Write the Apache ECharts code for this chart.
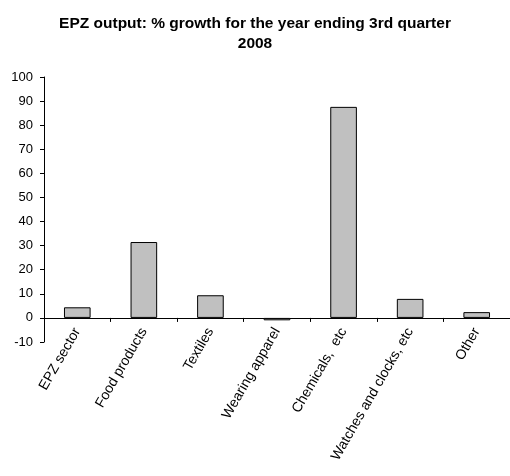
<!DOCTYPE html>
<html>
<head>
<meta charset="utf-8">
<script src="https://cdn.jsdelivr.net/npm/echarts@6/dist/echarts.min.js"></script>
<style>html,body{margin:0;padding:0;background:#fff;}#c{width:510px;height:476px;}</style>
</head>
<body>
<div id="c"></div>
<script>
const categories = ["EPZ sector", "Food products", "Textiles", "Wearing apparel", "Chemicals,  etc", "Watches and clocks, etc", "Other"];
const growth = [4.4, 31.5, 9.4, -1.0, 87.6, 7.9, 2.4];
const titleText = "EPZ output: % growth for the year ending 3rd quarter\n2008";

const chart = echarts.init(document.getElementById('c'), null, {renderer: 'canvas'});
chart.setOption({
  backgroundColor: '#ffffff',
  animation: false,
  title: {
    text: titleText,
    left: 'center',
    top: 9,
    textStyle: {fontFamily: 'Liberation Sans, Arial', fontSize: 15.5, fontWeight: 'bold', color: '#000', lineHeight: 20}
  },
  grid: {left: 44, top: 77, width: 468, height: 265},
  xAxis: {
    type: 'category',
    data: categories,
    axisLine: {onZero: true, lineStyle: {color: '#000', width: 1}},
    axisTick: {show: true, length: 4, inside: false, lineStyle: {color: '#000'}},
    axisLabel: {rotate: 60, interval: 0, fontFamily: 'Liberation Sans, Arial', fontSize: 14, color: '#000', margin: -13},
    splitLine: {show: false}
  },
  yAxis: {
    type: 'value',
    min: -10, max: 100, interval: 10,
    axisLine: {show: true, lineStyle: {color: '#000', width: 1}},
    axisTick: {show: true, length: 4, lineStyle: {color: '#000'}},
    axisLabel: {fontFamily: 'Liberation Sans, Arial', fontSize: 13, color: '#000', margin: 11},
    splitLine: {show: false}
  },
  series: [{
    type: 'bar',
    data: growth,
    barWidth: '40%',
    itemStyle: {color: '#c0c0c0', borderColor: '#000', borderWidth: 1}
  }]
});
</script>
</body>
</html>
